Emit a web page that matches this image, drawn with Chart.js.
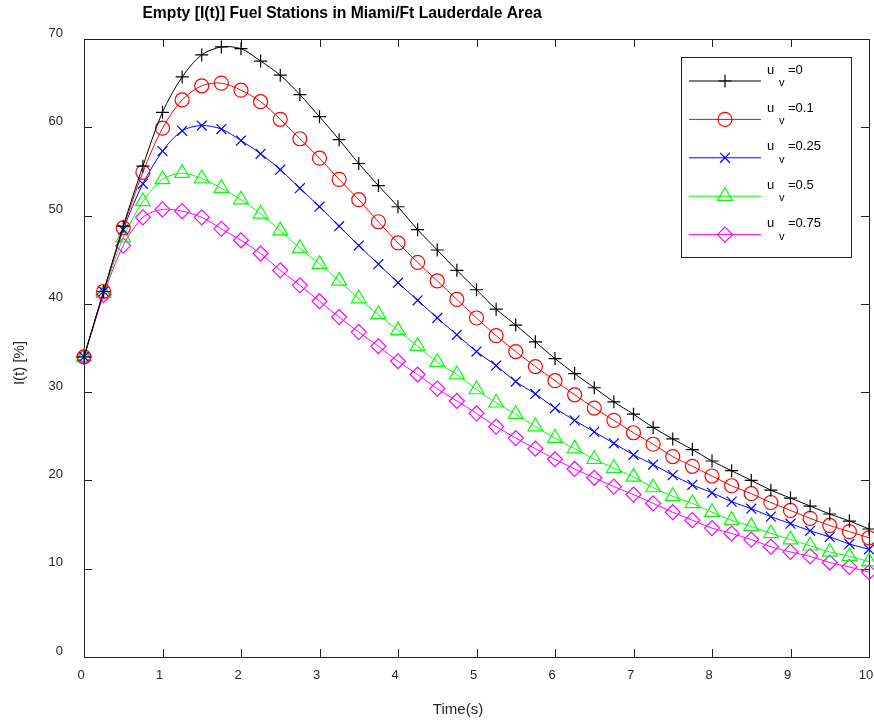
<!DOCTYPE html>
<html><head><meta charset="utf-8">
<script src="https://cdn.jsdelivr.net/npm/chart.js@4.4.0/dist/chart.umd.min.js"></script>
<style>html,body{margin:0;padding:0;background:#fff;}#wrap{width:874px;height:723px;position:relative;}</style>
</head><body><div id="wrap"><canvas id="c" width="874" height="723"></canvas></div>
<script>
const chartTitle = 'Empty [I(t)] Fuel Stations in Miami/Ft Lauderdale Area';
const xTitle = 'Time(s)';
const yTitle = 'I(t) [%]';
const times = [0, 0.25, 0.5, 0.75, 1, 1.25, 1.5, 1.75, 2, 2.25, 2.5, 2.75, 3, 3.25, 3.5, 3.75, 4, 4.25, 4.5, 4.75, 5,
  5.25, 5.5, 5.75, 6, 6.25, 6.5, 6.75, 7, 7.25, 7.5, 7.75, 8, 8.25, 8.5, 8.75, 9, 9.25, 9.5, 9.75, 10];
const uvLabels = ['0', '0.1', '0.25', '0.5', '0.75'];
const I_uv0 = [34.0, 41.4, 48.8, 55.6, 61.7, 65.7, 68.2, 69.1, 68.9, 67.5, 65.9, 63.7, 61.2, 58.6, 55.9, 53.4, 51.0, 48.4, 46.1, 43.8, 41.6,
  39.4, 37.6, 35.7, 33.8, 32.1, 30.5, 28.9, 27.5, 26.0, 24.7, 23.5, 22.2, 21.1, 20.0, 18.9, 18.0, 17.1, 16.2, 15.4, 14.5];
const I_uv01 = [34.0, 41.4, 48.6, 54.9, 59.9, 63.1, 64.7, 65.0, 64.2, 62.9, 60.9, 58.7, 56.5, 54.1, 51.8, 49.3, 46.9, 44.7, 42.6, 40.5, 38.4,
  36.4, 34.6, 32.9, 31.3, 29.7, 28.2, 26.8, 25.4, 24.1, 22.7, 21.6, 20.5, 19.4, 18.5, 17.5, 16.6, 15.7, 14.9, 14.2, 13.5];
const I_uv025 = [34.0, 41.4, 48.4, 53.6, 57.3, 59.6, 60.2, 59.8, 58.5, 57.0, 55.2, 53.1, 51.0, 48.8, 46.6, 44.5, 42.4, 40.4, 38.4, 36.5, 34.6,
  33.0, 31.2, 29.8, 28.2, 26.8, 25.5, 24.2, 22.9, 21.8, 20.6, 19.5, 18.6, 17.6, 16.8, 15.9, 15.1, 14.3, 13.6, 12.8, 12.2];
const I_uv05 = [34.0, 41.2, 47.5, 51.6, 54.1, 54.8, 54.2, 53.1, 51.8, 50.2, 48.3, 46.3, 44.5, 42.6, 40.6, 38.8, 37.0, 35.2, 33.4, 32.0, 30.3,
  28.8, 27.5, 26.1, 24.8, 23.6, 22.4, 21.4, 20.4, 19.2, 18.2, 17.4, 16.4, 15.5, 14.8, 14.0, 13.3, 12.6, 11.9, 11.4, 10.8];
const I_uv075 = [34.0, 41.0, 46.6, 49.8, 50.7, 50.5, 49.8, 48.5, 47.2, 45.7, 43.8, 42.1, 40.3, 38.5, 36.8, 35.2, 33.5, 32.0, 30.4, 29.0, 27.6,
  26.1, 24.8, 23.6, 22.4, 21.3, 20.3, 19.3, 18.4, 17.4, 16.4, 15.5, 14.6, 14.0, 13.3, 12.5, 11.9, 11.4, 10.7, 10.2, 9.6];
const xTickValues = [0, 1, 2, 3, 4, 5, 6, 7, 8, 9, 10];
const yTickValues = [0, 10, 20, 30, 40, 50, 60, 70];

const FONT = "'Liberation Sans', Arial, Helvetica, sans-serif";
const styles = [
  {color: '#000000', pointStyle: 'cross', radius: 6.5},
  {color: '#ff0000', pointStyle: 'circle', radius: 7},
  {color: '#0000ff', pointStyle: 'crossRot', radius: 7},
  {color: '#00ff00', pointStyle: 'triangle', radius: 8.5},
  {color: '#ff00ff', pointStyle: 'rectRot', radius: 7.5}
];
const seriesValues = [I_uv0, I_uv01, I_uv025, I_uv05, I_uv075];

const datasets = seriesValues.map((vals, i) => ({
  label: 'u_v=' + uvLabels[i],
  data: times.map((t, k) => ({x: t, y: vals[k]})),
  borderColor: styles[i].color,
  borderWidth: 1,
  pointStyle: styles[i].pointStyle,
  pointRadius: styles[i].radius,
  pointBorderColor: styles[i].color,
  pointBackgroundColor: 'rgba(0,0,0,0)',
  pointBorderWidth: 1.2,
  pointHoverRadius: styles[i].radius,
  tension: 0.3,
  fill: false,
  clip: false
}));

const PLOT_RIGHT = 869;

const framePlugin = {
  id: 'frame',
  afterLayout(chart) {
    const a = chart.chartArea;
    const s = chart.scales.x;
    a.right = PLOT_RIGHT;
    a.width = a.right - a.left;
    s.right = PLOT_RIGHT;
    s.width = s.right - s.left;
    s.configure();
  },
  beforeDatasetsDraw(chart) {
    const {ctx, chartArea: a, scales} = chart;
    ctx.save();
    ctx.strokeStyle = '#222';
    ctx.lineWidth = 1;
    ctx.strokeRect(a.left + 0.5, a.top + 0.5, a.right - a.left, a.bottom - a.top);
    const L = 8;
    ctx.beginPath();
    xTickValues.forEach(v => {
      const px = Math.round(scales.x.getPixelForValue(v)) + 0.5;
      ctx.moveTo(px, a.bottom); ctx.lineTo(px, a.bottom - L);
      ctx.moveTo(px, a.top); ctx.lineTo(px, a.top + L);
    });
    yTickValues.forEach(v => {
      const py = Math.round(scales.y.getPixelForValue(v)) + 0.5;
      ctx.moveTo(a.left, py); ctx.lineTo(a.left + L, py);
      ctx.moveTo(a.right, py); ctx.lineTo(a.right - L, py);
    });
    ctx.stroke();
    ctx.restore();
  },
  afterDraw(chart) {
    const {ctx} = chart;
    ctx.save();
    // main title
    ctx.fillStyle = '#000';
    ctx.font = 'bold 15.7px ' + FONT;
    ctx.textAlign = 'center';
    ctx.textBaseline = 'middle';
    ctx.fillText(chartTitle, 342, 14);
    // axis titles
    ctx.fillStyle = '#262626';
    ctx.font = '15px ' + FONT;
    ctx.fillText(xTitle, 458, 710);
    ctx.save();
    ctx.translate(20, 363);
    ctx.rotate(-Math.PI / 2);
    ctx.fillText(yTitle, 0, 0);
    ctx.restore();
    // legend
    const bx = 681.5, by = 57.5, bw = 170, bh = 200;
    ctx.fillStyle = '#fff';
    ctx.fillRect(bx, by, bw, bh);
    ctx.strokeStyle = '#222';
    ctx.lineWidth = 1;
    ctx.strokeRect(bx, by, bw, bh);
    chart.data.datasets.forEach((ds, i) => {
      const ry = 81 + i * 38.4;
      ctx.strokeStyle = ds.borderColor;
      ctx.lineWidth = 1;
      ctx.beginPath();
      ctx.moveTo(689, ry); ctx.lineTo(761, ry);
      ctx.stroke();
      ctx.fillStyle = 'rgba(0,0,0,0)';
      ctx.lineWidth = 1.2;
      Chart.helpers.drawPoint(ctx, {pointStyle: ds.pointStyle, radius: ds.pointRadius, borderWidth: 1.2, rotation: 0}, 725, ry);
      ctx.fillStyle = '#000';
      ctx.textAlign = 'left';
      ctx.textBaseline = 'middle';
      ctx.font = '13px ' + FONT;
      ctx.fillText('u', 767, ry - 11);
      ctx.fillText('=' + uvLabels[i], 788, ry - 11);
      ctx.font = '11px ' + FONT;
      ctx.fillText('v', 779, ry + 2);
    });
    ctx.restore();
  }
};

new Chart(document.getElementById('c'), {
  type: 'line',
  data: {datasets},
  options: {
    responsive: false,
    animation: false,
    devicePixelRatio: 1,
    layout: {padding: {top: 39, right: 5, left: 0, bottom: 0}},
    plugins: {legend: {display: false}, title: {display: false}, tooltip: {enabled: false}},
    scales: {
      x: {
        type: 'linear', min: 0, max: 10,
        afterFit(s) { s.height = 66; s.paddingLeft = 0; s.paddingRight = 0; },
        afterBuildTicks(s) { s.ticks = xTickValues.map(v => ({value: v})); },
        grid: {display: false, drawTicks: false},
        border: {display: false},
        ticks: {font: {size: 13, family: FONT}, color: '#262626', padding: 11, labelOffset: -3, maxRotation: 0, autoSkip: false}
      },
      y: {
        type: 'linear', min: 0, max: 70,
        afterFit(s) { s.width = 84; s.paddingTop = 0; s.paddingBottom = 0; },
        afterBuildTicks(s) { s.ticks = yTickValues.map(v => ({value: v})); },
        grid: {display: false, drawTicks: false},
        border: {display: false},
        ticks: {font: {size: 13, family: FONT}, color: '#262626', padding: 21, labelOffset: -6, autoSkip: false}
      }
    }
  },
  plugins: [framePlugin]
});
</script></body></html>
